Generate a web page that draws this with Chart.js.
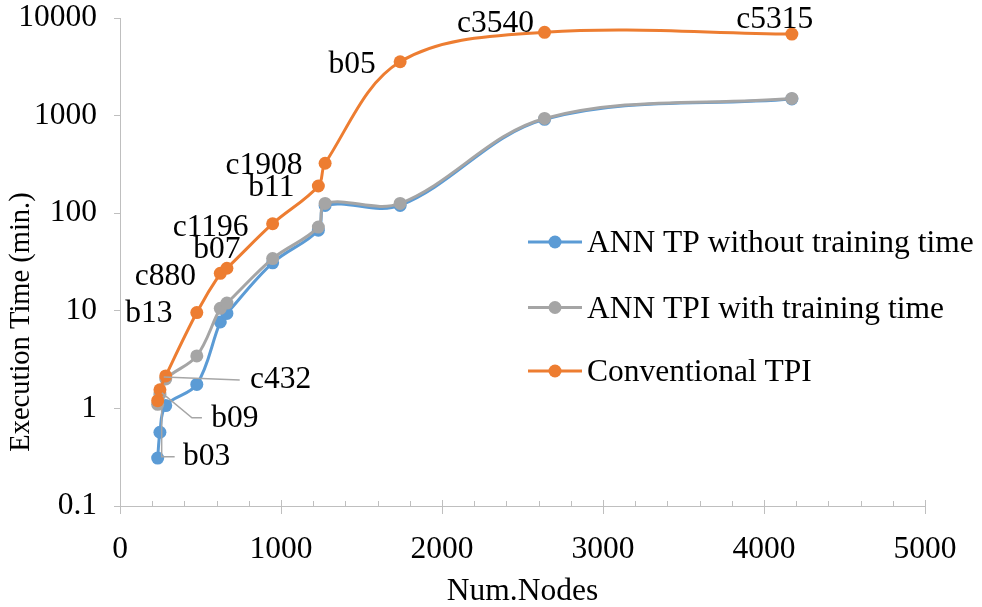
<!DOCTYPE html>
<html><head><meta charset="utf-8">
<script src="https://cdn.jsdelivr.net/npm/chart.js@4.4.1/dist/chart.umd.min.js"></script>
<style>html,body{margin:0;padding:0;background:#fff}canvas{display:block}</style>
</head><body>
<canvas id="c" width="982" height="607"></canvas>
<script>
// ---- data ----
const circuits = ['b03','b09','c432','b13','c880','b07','c1196','b11','c1908','b05','c3540','c5315'];
const numNodes = [234, 248, 284, 477, 623, 664, 948, 1232, 1274, 1740, 2637, 4173];
const annTP    = [0.31, 0.57, 1.07, 1.76, 7.7, 9.4, 31, 67, 120, 120, 915, 1480];
const annTPI   = [1.1, 1.4, 2.0, 3.45, 10.6, 12.0, 34.3, 72, 126, 126, 935, 1500];
const convTPI  = [1.2, 1.55, 2.15, 9.6, 24.2, 27.3, 78, 190, 325, 3560, 7130, 6850];
const seriesNames = ['ANN TP without training time', 'ANN TPI with training time', 'Conventional TPI'];
const xTitle = 'Num.Nodes';
const yTitle = 'Execution Time (min.)';
const yTickValues = [0.1, 1, 10, 100, 1000, 10000];
const xTickStep = 1000;
const xMinorStep = 200;

// ---- style ----
const FONT = "'Liberation Serif', 'Times New Roman', serif";
const FS = 31.5;
const colors = ['#5B9BD5', '#A5A5A5', '#ED7D31'];
const axisColor = '#BFBFBF';
// label placement relative to its point (pixels)
const labelOffsets = [
  {dx: 49, dy: 56, leader: [[4,6],[4,56],[17,56]]},
  {dx: 75, dy: 29, leader: [[2,3],[32,28],[42,28]]},
  {dx: 115, dy: 4, leader: [[-2,1],[74,4]]},
  {dx: -48, dy: 1},
  {dx: -55, dy: 3.5},
  {dx: -10, dy: -18},
  {dx: -62, dy: 4.5},
  {dx: -47, dy: 1.5},
  {dx: -61, dy: 2},
  {dx: -48, dy: 3},
  {dx: -49, dy: -9},
  {dx: -17, dy: -14}
];
const legendLayout = {x0: 528, x1: 582, xm: 555, tx: 587, ys: [242, 307.5, 371]};
const yTitleLayout = {x: 22, y: 322, size: 28.5};

function toXY(ys) { return numNodes.map((x, i) => ({x: x, y: ys[i]})); }

const pointLabels = {
  id: 'pointLabels',
  afterDatasetsDraw(chart) {
    const meta = chart.getDatasetMeta(2);
    const ctx = chart.ctx;
    ctx.save();
    ctx.font = FS + 'px ' + FONT;
    ctx.textAlign = 'center';
    ctx.textBaseline = 'middle';
    meta.data.forEach((pt, i) => {
      const st = labelOffsets[i];
      if (st.leader) {
        ctx.beginPath();
        ctx.strokeStyle = '#A6A6A6';
        ctx.lineWidth = 1.5;
        st.leader.forEach((p, k) => {
          if (k === 0) ctx.moveTo(pt.x + p[0], pt.y + p[1]);
          else ctx.lineTo(pt.x + p[0], pt.y + p[1]);
        });
        ctx.stroke();
      }
      ctx.fillStyle = '#000';
      ctx.fillText(circuits[i], pt.x + st.dx, pt.y + st.dy);
    });
    ctx.restore();
  }
};

const customLegend = {
  id: 'customLegend',
  afterDraw(chart) {
    const ctx = chart.ctx;
    const L = legendLayout;
    ctx.save();
    ctx.font = FS + 'px ' + FONT;
    ctx.textAlign = 'left';
    ctx.textBaseline = 'middle';
    chart.data.datasets.forEach((ds, i) => {
      const y = L.ys[i];
      ctx.strokeStyle = ds.borderColor;
      ctx.lineWidth = 3;
      ctx.beginPath(); ctx.moveTo(L.x0, y); ctx.lineTo(L.x1, y); ctx.stroke();
      ctx.fillStyle = ds.borderColor;
      ctx.beginPath(); ctx.arc(L.xm, y, 6.5, 0, Math.PI * 2); ctx.fill();
      ctx.fillStyle = '#000';
      ctx.fillText(ds.label, L.tx, y + 2);
    });
    ctx.restore();
  }
};

const yAxisTitle = {
  id: 'yAxisTitle',
  afterDraw(chart) {
    const ctx = chart.ctx;
    const T = yTitleLayout;
    ctx.save();
    ctx.translate(T.x, T.y);
    ctx.rotate(-Math.PI / 2);
    ctx.font = T.size + 'px ' + FONT;
    ctx.fillStyle = '#000';
    ctx.textAlign = 'center';
    ctx.textBaseline = 'middle';
    ctx.fillText(yTitle, 0, 0);
    ctx.restore();
  }
};

const innerTicks = {
  id: 'innerTicks',
  afterDraw(chart) {
    const xs = chart.scales.x;
    const ctx = chart.ctx;
    const yb = chart.chartArea.bottom;
    ctx.save();
    ctx.strokeStyle = axisColor;
    ctx.lineWidth = 1;
    for (let v = xMinorStep; v <= xs.max; v += xMinorStep) {
      const px = Math.round(xs.getPixelForValue(v)) + 0.5;
      const len = (v % xTickStep === 0) ? 6 : 5;
      ctx.beginPath(); ctx.moveTo(px, yb); ctx.lineTo(px, yb - len); ctx.stroke();
    }
    ctx.restore();
  }
};

new Chart(document.getElementById('c'), {
  type: 'line',
  data: {
    datasets: [annTP, annTPI, convTPI].map((ys, i) => ({
      label: seriesNames[i],
      data: toXY(ys),
      borderColor: colors[i],
      backgroundColor: colors[i],
      pointBackgroundColor: colors[i],
      pointBorderColor: colors[i],
      pointBorderWidth: 0,
      pointRadius: 6.5,
      borderWidth: 3,
      tension: 0.35,
      fill: false,
      order: 3 - i
    }))
  },
  options: {
    responsive: false,
    animation: false,
    devicePixelRatio: 1,
    events: [],
    layout: {padding: {top: 18, right: 57, bottom: 0, left: 0}},
    plugins: {legend: {display: false}, tooltip: {enabled: false}},
    scales: {
      x: {
        type: 'linear', min: 0, max: 5000,
        afterFit: s => { s.height = 101; s.paddingLeft = 0; s.paddingRight = 0; },
        ticks: {stepSize: xTickStep, color: '#000', padding: 17,
          font: {family: FONT, size: FS, lineHeight: 1.2},
          callback: v => String(v)},
        grid: {display: true, drawOnChartArea: false, tickLength: 8, color: axisColor},
        border: {display: true, color: axisColor, width: 1},
        title: {display: true, text: xTitle, color: '#000',
          font: {family: FONT, size: FS, lineHeight: 1.0}, padding: {top: 0, bottom: 0}}
      },
      y: {
        type: 'logarithmic', min: 0.1, max: 10000,
        afterFit: s => { s.width = 120; s.paddingTop = 0; s.paddingBottom = 0; },
        afterBuildTicks: s => { s.ticks = yTickValues.map(v => ({value: v})); },
        ticks: {color: '#000', padding: 17,
          font: {family: FONT, size: FS, lineHeight: 1.0},
          callback: v => String(v)},
        grid: {display: true, drawOnChartArea: false, tickLength: 6, color: axisColor},
        border: {display: true, color: axisColor, width: 1},
        title: {display: false}
      }
    }
  },
  plugins: [pointLabels, customLegend, innerTicks, yAxisTitle]
});
</script>
</body></html>
